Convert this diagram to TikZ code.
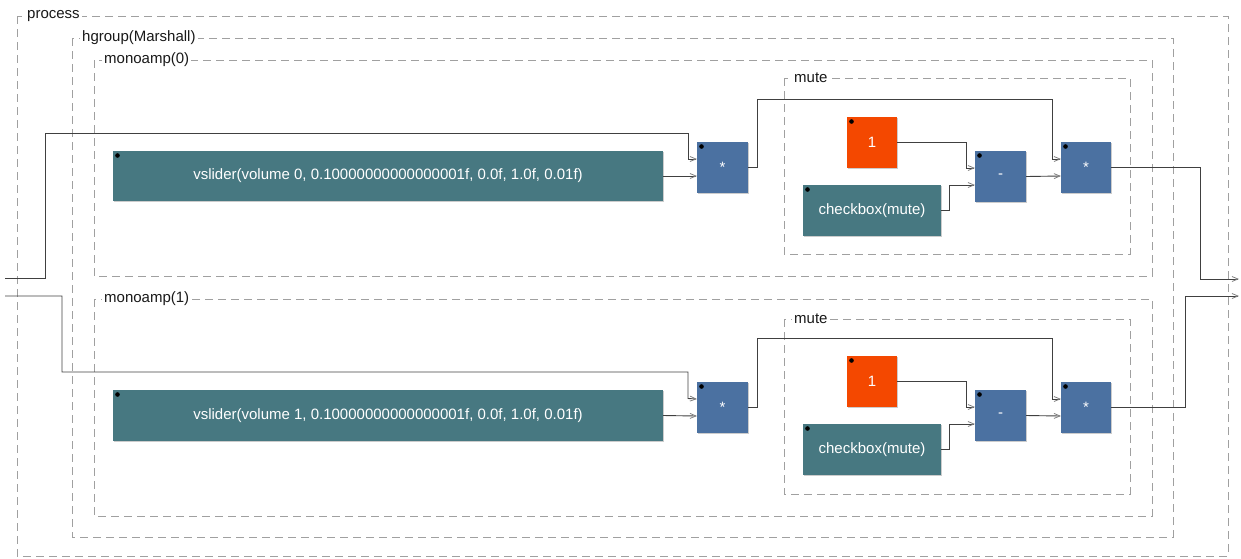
\documentclass[tikz,border=0pt]{standalone}
\usepackage{fontspec}
\setmainfont{Liberation Sans}
\usetikzlibrary{arrows.meta,shadows}
\definecolor{uicol}{HTML}{477881}
\definecolor{opcol}{HTML}{4B71A1}
\definecolor{numcol}{HTML}{F44800}
\definecolor{framecol}{HTML}{A0A0A0}
\definecolor{wirecol}{HTML}{404040}
\begin{document}
\begin{tikzpicture}[x=1pt,y=-1pt,
  every node/.style={font=\fontsize{15}{18}\selectfont},
  block/.style={anchor=north west, inner sep=0pt, outer sep=0pt, text=white,
    drop shadow={shadow xshift=1.2pt, shadow yshift=-1.2pt, fill=black!40, opacity=0.5}},
  uiblock/.style={block, fill=uicol},
  opblock/.style={block, fill=opcol, minimum width=51pt, minimum height=51pt},
  numblock/.style={block, fill=numcol, minimum width=50pt, minimum height=51pt},
  frame/.style={draw=framecol, line width=1pt, dash pattern=on 8pt off 5pt},
  flabel/.style={anchor=west, fill=white, inner xsep=2pt, inner ysep=1pt, text=black!90},
  wire/.style={draw=wirecol, line width=0.9pt},
  arr/.style={wire, -{Straight Barb[length=6pt,width=5pt,line width=0.8pt,color=gray]}}
]
\useasboundingbox (0,0) rectangle (1241,558);

% ---------- frames ----------
\draw[frame] (17,16) -- (17,556) -- (1228,556) -- (1228,16) -- cycle;
\node[flabel] (lprocess) at (25,16) {process};
\draw[frame] (72,38) -- (72,537) -- (1173,537) -- (1173,38) -- cycle;
\node[flabel] (lhgroup) at (80,38) {hgroup(Marshall)};
\draw[frame] (94,60) -- (94,276) -- (1152,276) -- (1152,60) -- cycle;
\node[flabel] (lmono0) at (102,60) {monoamp(0)};
\draw[frame] (94,299) -- (94,516) -- (1152,516) -- (1152,299) -- cycle;
\node[flabel] (lmono1) at (102,299) {monoamp(1)};
\draw[frame] (784,78) -- (784,254) -- (1130,254) -- (1130,78) -- cycle;
\node[flabel] (lmute0) at (792,78) {mute};
\draw[frame] (784,319) -- (784,494) -- (1130,494) -- (1130,319) -- cycle;
\node[flabel] (lmute1) at (792,319) {mute};

% ---------- blocks ----------
\node[uiblock, minimum width=550pt, minimum height=50pt] (sl0) at (113,151) {vslider(volume 0, 0.10000000000000001f, 0.0f, 1.0f, 0.01f)};
\node[opblock] (mul0) at (697,142) {*};
\node[numblock] (one0) at (847,117) {1};
\node[uiblock, minimum width=138pt, minimum height=51pt] (cb0) at (803,185) {checkbox(mute)};
\node[opblock] (sub0) at (975,151) {-};
\node[opblock, minimum width=50pt] (mm0) at (1061,142) {*};

\node[uiblock, minimum width=550pt, minimum height=51pt] (sl1) at (113,390) {vslider(volume 1, 0.10000000000000001f, 0.0f, 1.0f, 0.01f)};
\node[opblock] (mul1) at (697,382) {*};
\node[numblock] (one1) at (847,356) {1};
\node[uiblock, minimum width=138pt, minimum height=51pt] (cb1) at (803,424) {checkbox(mute)};
\node[opblock] (sub1) at (975,390) {-};
\node[opblock, minimum width=50pt] (mm1) at (1061,382) {*};

\foreach \b in {sl0,mul0,one0,cb0,sub0,mm0,sl1,mul1,one1,cb1,sub1,mm1}
  \fill ([xshift=4.5pt,yshift=-4.5pt]\b.north west) circle (2.3pt);

% ---------- ports ----------
\coordinate (in0) at (5,278);
\coordinate (in1) at (5,296);
\coordinate (out0) at (1239,279);
\coordinate (out1) at (1239,296);

% ---------- wires row 0 ----------
\draw[arr] (in0) -- (45,278) -- (45,133) -- (688,133) -- (688,159) -- ([yshift=8.5pt]mul0.west);
\draw[arr] (sl0.east) -- ([yshift=-8.5pt]mul0.west);
\draw[arr] (mul0.east) -- (757,167.5) -- (757,99) -- (1052,99) -- (1052,159) -- ([yshift=8.5pt]mm0.west);
\draw[arr] (one0.east) -- (966,142.5) -- (966,168) -- ([yshift=8.5pt]sub0.west);
\draw[arr] (cb0.east) -- (949,210.5) -- (949,185) -- ([yshift=-8.5pt]sub0.west);
\draw[arr] (sub0.east) -- ([yshift=-8.5pt]mm0.west);
\draw[arr] (mm0.east) -- (1200,167.5) -- (1200,279) -- (out0);

% ---------- wires row 1 ----------
\draw[arr] (in1) -- (62,296) -- (62,372) -- (688,372) -- (688,398.5) -- ([yshift=8.5pt]mul1.west);
\draw[arr] (sl1.east) -- ([yshift=-8.5pt]mul1.west);
\draw[arr] (mul1.east) -- (757,407.5) -- (757,338) -- (1052,338) -- (1052,399) -- ([yshift=8.5pt]mm1.west);
\draw[arr] (one1.east) -- (966,381.5) -- (966,407) -- ([yshift=8.5pt]sub1.west);
\draw[arr] (cb1.east) -- (949,449.5) -- (949,424) -- ([yshift=-8.5pt]sub1.west);
\draw[arr] (sub1.east) -- ([yshift=-8.5pt]mm1.west);
\draw[arr] (mm1.east) -- (1185,407.5) -- (1185,296) -- (out1);
\end{tikzpicture}
\end{document}
